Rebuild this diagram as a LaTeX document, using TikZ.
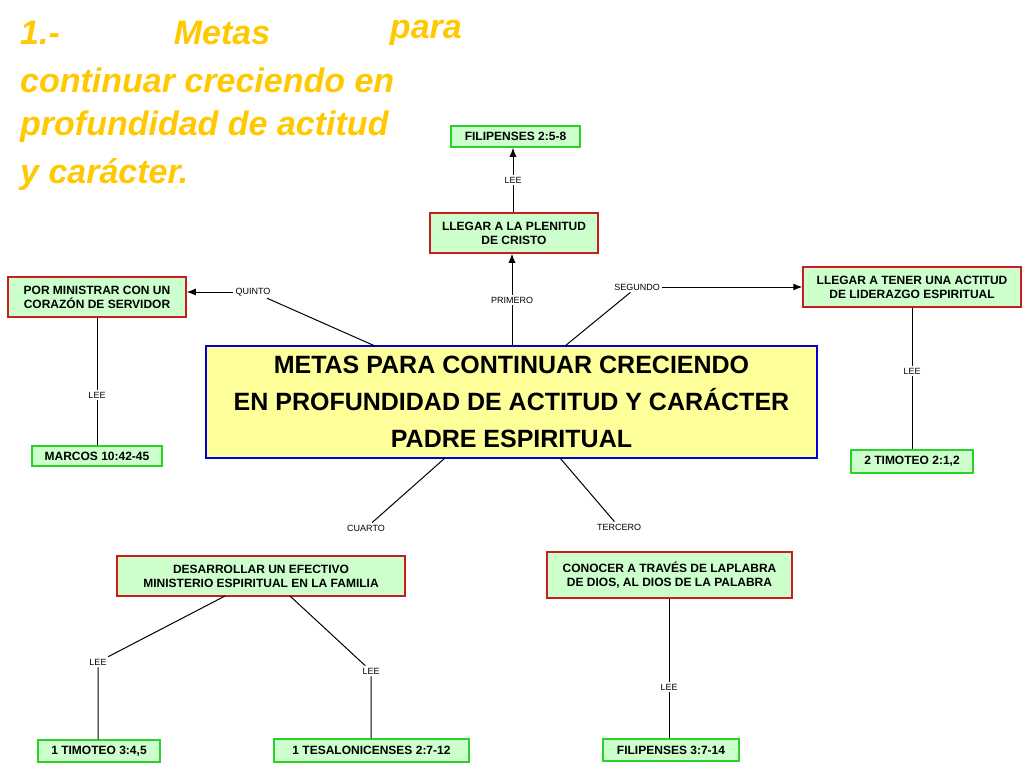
\documentclass[tikz,border=0pt]{standalone}
\usepackage{fontspec}
\setmainfont{Liberation Sans}
\usetikzlibrary{arrows.meta}
\definecolor{lg}{RGB}{204,255,204}
\definecolor{rb}{RGB}{200,30,30}
\definecolor{gb}{RGB}{40,210,40}
\definecolor{yf}{RGB}{255,255,153}
\definecolor{bb}{RGB}{0,0,210}
\definecolor{ty}{RGB}{255,200,0}
\tikzset{
 rbox/.style={draw=rb,line width=1.5pt,fill=lg,font=\fontsize{12}{14}\selectfont\bfseries,align=center,inner sep=2pt},
 gbox/.style={draw=gb,line width=1.5pt,fill=lg,font=\fontsize{12}{14}\selectfont\bfseries,align=center,inner sep=2pt},
 lab/.style={fill=white,font=\fontsize{9}{10}\selectfont,inner sep=2pt},
 ttl/.style={text=ty,font=\fontsize{34}{40}\selectfont\bfseries\itshape,inner sep=0pt},
 ln/.style={line width=1pt},
 ar/.style={line width=1pt,-{Latex[length=9pt,width=7pt]}}
}
\begin{document}
\begin{tikzpicture}[x=1pt,y=-1pt]
\useasboundingbox (0,0) rectangle (1024,768);
% title
\node[ttl,anchor=west] (t1a) at (20,33) {1.-};
\node[ttl] (t1b) at (222,33) {Metas};
\node[ttl,anchor=east] (t1c) at (462,33) {para};
\node[ttl,anchor=west] (t2) at (20,80) {continuar creciendo en};
\node[ttl,anchor=west] (t3) at (20,127) {profundidad de actitud};
\node[ttl,anchor=west] (t4) at (20,175) {y carácter.};
% center
\node[draw=bb,line width=2.5pt,fill=yf,minimum width=611,minimum height=112,align=center,font=\fontsize{25}{37}\selectfont\bfseries,inner sep=0pt] (c) at (511.5,402) {METAS PARA CONTINUAR CRECIENDO\\EN PROFUNDIDAD DE ACTITUD Y CARÁCTER\\PADRE ESPIRITUAL};
% boxes
\node[rbox,minimum width=168,minimum height=40] (n1) at (514,233) {LLEGAR A LA PLENITUD\\DE CRISTO};
\node[gbox,minimum width=129,minimum height=21] (f1) at (515.5,136.5) {FILIPENSES 2:5-8};
\node[rbox,minimum width=178,minimum height=40] (n5) at (97,297) {POR MINISTRAR CON UN\\CORAZÓN DE SERVIDOR};
\node[gbox,minimum width=130,minimum height=20] (m5) at (97,456) {MARCOS 10:42-45};
\node[rbox,minimum width=218,minimum height=40] (n2) at (912,287) {LLEGAR A TENER UNA ACTITUD\\DE LIDERAZGO ESPIRITUAL};
\node[gbox,minimum width=122,minimum height=23] (t2b) at (912,461.5) {2 TIMOTEO 2:1,2};
\node[rbox,minimum width=288,minimum height=40] (n4) at (261,576) {DESARROLLAR UN EFECTIVO\\MINISTERIO ESPIRITUAL EN LA FAMILIA};
\node[rbox,minimum width=245,minimum height=46] (n3) at (669.5,575) {CONOCER A TRAVÉS DE LAPLABRA\\DE DIOS, AL DIOS DE LA PALABRA};
\node[gbox,minimum width=122,minimum height=22] (a4) at (99,751) {1 TIMOTEO 3:4,5};
\node[gbox,minimum width=195,minimum height=23] (b4) at (371.5,750.5) {1 TESALONICENSES 2:7-12};
\node[gbox,minimum width=136,minimum height=22] (a3) at (671,750) {FILIPENSES 3:7-14};
% labels
\node[lab] (lp) at (512,300) {PRIMERO};
\node[lab] (ll1) at (513,180) {LEE};
\node[lab] (lq) at (253,292) {QUINTO};
\node[lab] (ls) at (637,287) {SEGUNDO};
\node[lab] (ll2) at (912,371) {LEE};
\node[lab] (ll5) at (97,395) {LEE};
\node[lab] (lc) at (366,528) {CUARTO};
\node[lab] (lt) at (619,527) {TERCERO};
\node[lab] (ll4a) at (98,662) {LEE};
\node[lab] (ll4b) at (371,671) {LEE};
\node[lab] (ll3) at (669,687) {LEE};
% connectors
\begin{scope}[on background layer/.try]
\end{scope}
\draw[ln] (c.north -| lp) -- (lp);
\draw[ar] (lp) -- (n1.south -| lp);
\draw[ln] (n1.north -| ll1) -- (ll1);
\draw[ar] (ll1) -- (f1.south -| ll1);
\draw[ln] (375,346) -- (lq);
\draw[ar] (lq) -- (n5.east |- lq);
\draw[ln] (565,346) -- (ls);
\draw[ar] (ls) -- (n2.west |- ls);
\draw[ln] (n2.south) -- (ll2) -- (t2b.north);
\draw[ln] (n5.south) -- (ll5) -- (m5.north);
\draw[ln] (445,458) -- (lc);
\draw[ln] (560,458) -- (lt);
\draw[ln] (225,596) -- (ll4a) -- (a4.north -| ll4a);
\draw[ln] (290,596) -- (ll4b) -- (b4.north -| ll4b);
\draw[ln] (n3.south -| ll3) -- (ll3) -- (a3.north -| ll3);
\end{tikzpicture}
\end{document}
